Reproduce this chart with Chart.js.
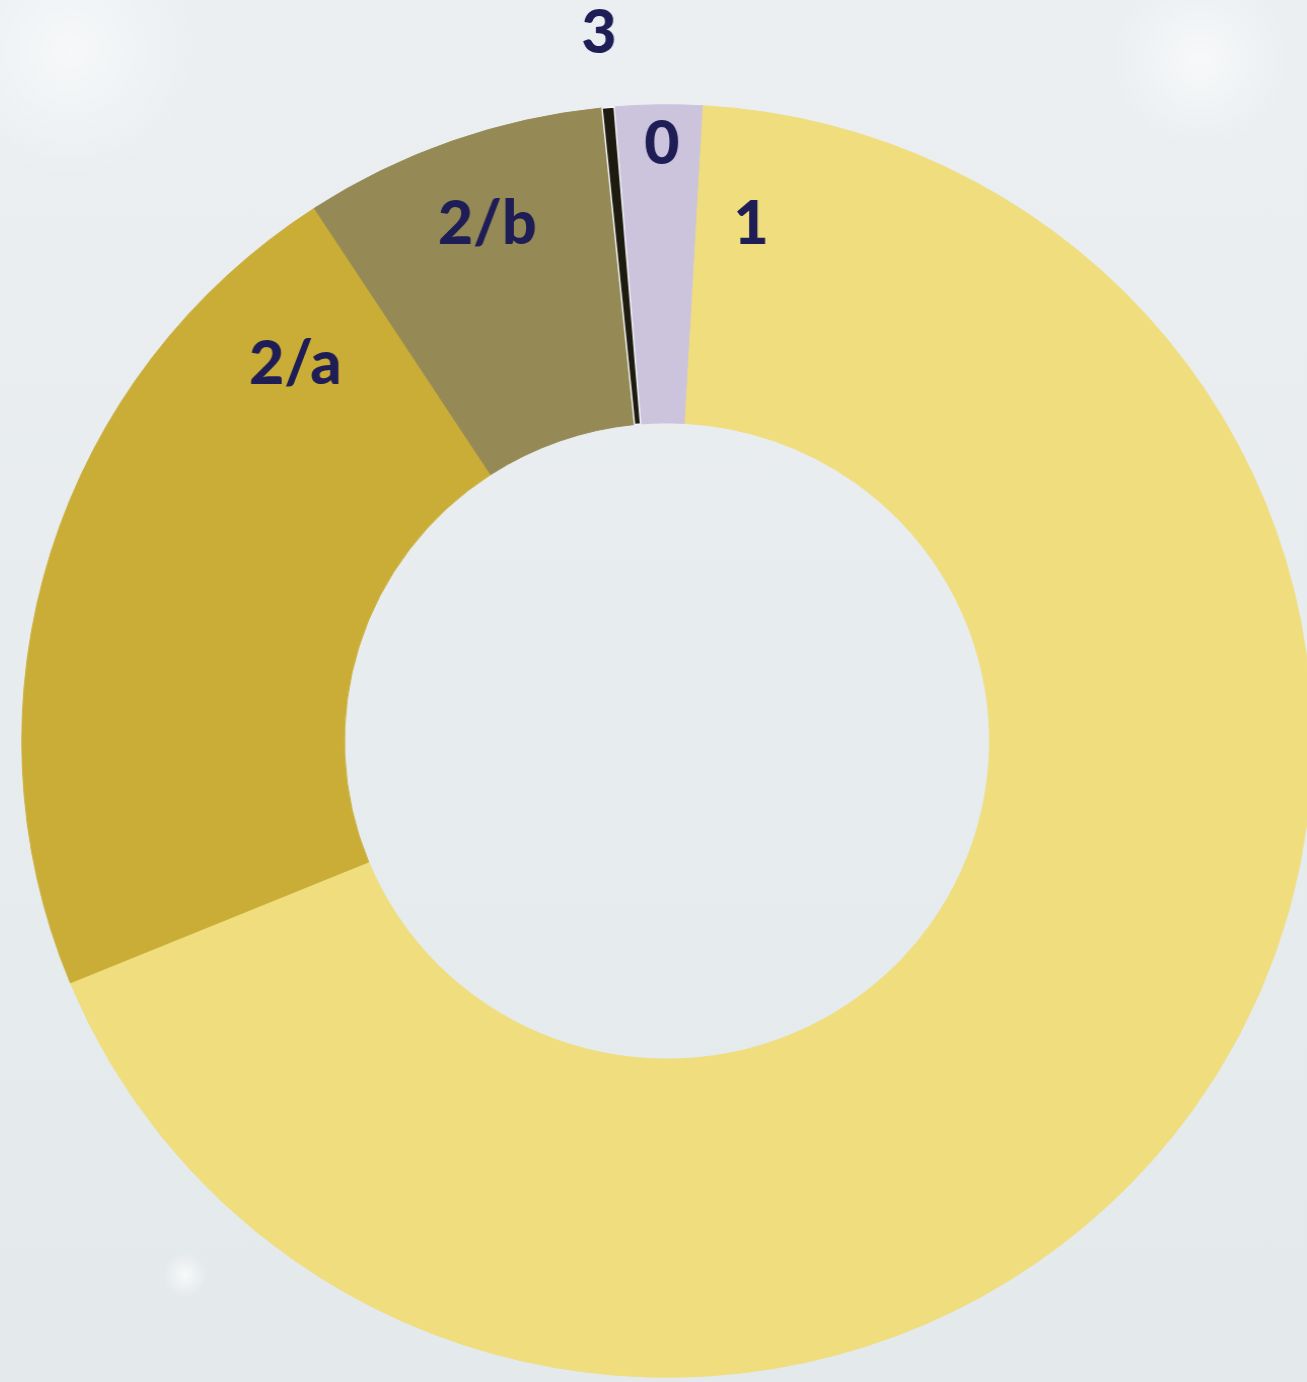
<!DOCTYPE html>
<html>
<head>
<meta charset="utf-8">
<title>Ring</title>
<script src="https://cdn.jsdelivr.net/npm/chart.js"></script>
<style>
html, body {
	margin: 0;
	padding: 0;
	width: 1307px;
	height: 1382px;
	overflow: hidden;
}
body {
	background:
		radial-gradient(circle at 70px 50px, rgba(255,255,255,0.55), rgba(255,255,255,0) 130px),
		radial-gradient(circle at 1200px 60px, rgba(255,255,255,0.6), rgba(255,255,255,0) 90px),
		radial-gradient(circle at 185px 1275px, rgba(255,255,255,0.7), rgba(255,255,255,0) 22px),
		linear-gradient(#EBEFF2, #E4E9EC);
}
/* the source picture is a touch wider than tall */
#wrap {
	position: relative;
	width: 1307px;
	height: 1382px;
	transform-origin: 667px 741px;
	transform: scaleX(1.014);
}
</style>
</head>
<body>
<div id="wrap"><canvas id="myChart"></canvas></div>
<script>
// values, share of the ring in percent
var categories = ["0", "1", "2/a", "2/b", "3"];
var shares = [2.2, 67.9, 22.0, 7.6, 0.3];
var sliceColors = ["#CCC3DC", "#EFDD7E", "#CAAD36", "#958A55", "#1D1A10"];
var edgeColors = ["#CCC3DC", "#EFDD7E", "#CAAD36", "#958A55", "#F2F4F6"];

// where each label sits: [angle from 12 o'clock in deg, radius as share of outer radius]
var labelSpots = [[-0.5, 0.94], [9.1, 0.824], [315.9, 0.828], [341.1, 0.86], [-5.4, 1.12]];

var ringLabels = {
	id: "ringLabels",
	afterDatasetsDraw: function(chart) {
		var first = chart.getDatasetMeta(0).data[0];
		var cx = first.x, cy = first.y, R = first.outerRadius;
		var ctx = chart.ctx;
		ctx.save();
		ctx.font = "900 60px Lato";
		ctx.fillStyle = "#1E1D56";
		ctx.textAlign = "center";
		ctx.textBaseline = "alphabetic";
		categories.forEach(function(txt, i) {
			var a = (labelSpots[i][0] - 90) * Math.PI / 180;
			var r = R * labelSpots[i][1];
			ctx.fillText(txt, cx + Math.cos(a) * r, cy + Math.sin(a) * r + 21);
		});
		ctx.restore();
	}
};

new Chart(document.getElementById("myChart"), {
	"type" : "doughnut",
	"data" : {
		"labels" : categories,
		"datasets" : [ {
			"data" : shares,
			"backgroundColor" : sliceColors,
			"borderColor" : edgeColors,
			"borderWidth" : [1, 1, 1, 1, 1.5]
		} ]
	},
	"options" : {
		"responsive" : true,
		"maintainAspectRatio" : false,
		"animation" : false,
		"cutout" : "50%",
		"rotation" : -4.7,
		"layout" : {
			"padding" : { "left" : 30, "top" : 104, "right" : 3, "bottom" : 4 }
		},
		"plugins" : {
			"legend" : { "display" : false },
			"tooltip" : { "enabled" : false }
		}
	},
	"plugins" : [ ringLabels ]
});
</script>
</body>
</html>
